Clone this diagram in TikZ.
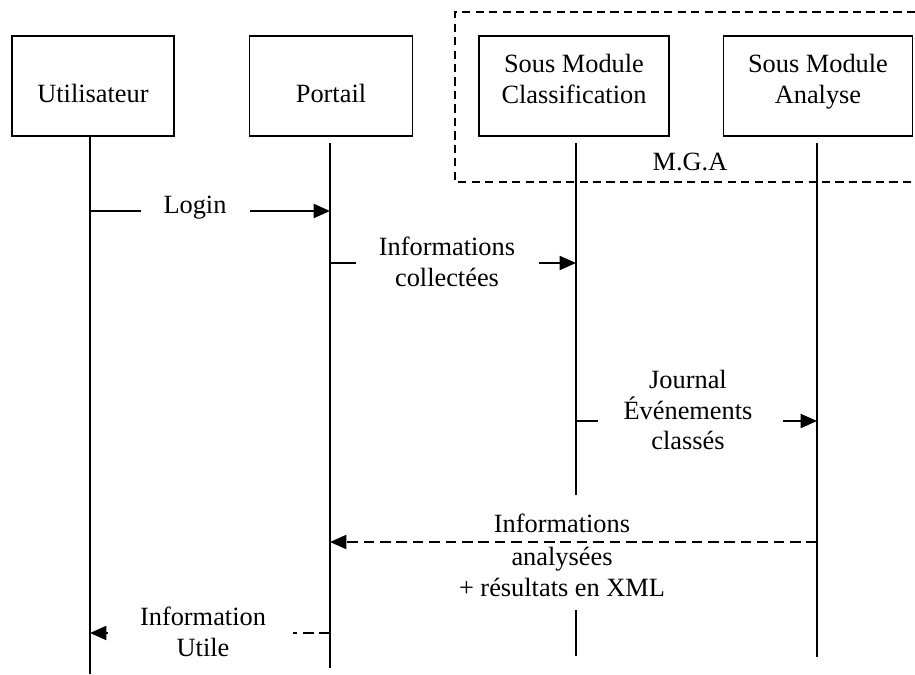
\documentclass[tikz,border=0pt]{standalone}
\usepackage{fontspec}
\setmainfont{Liberation Serif}
\usetikzlibrary{arrows.meta}

\begin{document}
\begin{tikzpicture}[x=0.03cm,y=-0.03cm,
  box/.style={draw,line width=1.6pt,minimum height=3cm,inner sep=0pt},
  lbl/.style={font=\fontsize{22.5}{26.4}\selectfont,align=center,inner sep=0pt},
  lifeline/.style={line width=1.6pt},
  msg/.style={line width=1.6pt,-{Triangle[length=14pt,width=12pt]}},
  reply/.style={msg,dash pattern=on 9pt off 5pt},
  groupbox/.style={line width=1.2pt,dash pattern=on 7pt off 4.5pt}]
  \useasboundingbox (0,0) rectangle (915,675);
  % Actor boxes
  \node[box,minimum width=4.86cm] (user) at (93,86) {};
  \node[box,minimum width=4.89cm] (portal) at (331,86) {};
  \node[box,minimum width=5.7cm] (classif) at (574,86) {};
  \node[box,minimum width=5.67cm] (analyse) at (818,86) {};
  \node[lbl] (user-txt) at (93,93) {Utilisateur};
  \node[lbl] (portal-txt) at (331,93) {Portail};
  \node[lbl] (classif-txt) at (574,79) {Sous Module\\Classification};
  \node[lbl] (analyse-txt) at (818,81.5) {Sous Module\\Analyse};
  % M.G.A group (open on the right)
  \draw[groupbox] (915,12) -- (455,12) -- (455,182) -- (915,182);
  \node[lbl] (mga) at (690,162) {M.G.A};
  % Lifelines
  \foreach \n/\x/\ya/\yb in {user/90/136/674, portal/330/143/668,
      classif/576/143/495, analyse/817/143/657} {
    \coordinate (\n-top) at (\x,\ya);
    \coordinate (\n-bot) at (\x,\yb);
    \draw[lifeline] (\n-top) -- (\n-bot);
  }
  \coordinate (classif-top2) at (576,610);
  \coordinate (classif-bot2) at (576,656);
  \draw[lifeline] (classif-top2) -- (classif-bot2);
  % Login
  \coordinate (login-s) at (90,211);
  \coordinate (login-l) at (141,211);
  \coordinate (login-r) at (250,211);
  \coordinate (login-e) at (330,211);
  \node[lbl] (login) at (195,208) {Login};
  \draw[lifeline] (login-s) -- (login-l);
  \draw[msg] (login-r) -- (login-e);
  % Informations collectees
  \coordinate (collect-s) at (330,263);
  \coordinate (collect-l) at (356,263);
  \coordinate (collect-r) at (539,263);
  \coordinate (collect-e) at (576,263);
  \node[lbl] (collect) at (447,262) {Informations\\collectées};
  \draw[lifeline] (collect-s) -- (collect-l);
  \draw[msg] (collect-r) -- (collect-e);
  % Journal
  \coordinate (journal-s) at (576,421);
  \coordinate (journal-l) at (598,421);
  \coordinate (journal-r) at (783,421);
  \coordinate (journal-e) at (817,421);
  \node[lbl] (journal) at (688,410) {Journal\\Événements\\classés};
  \draw[lifeline] (journal-s) -- (journal-l);
  \draw[msg] (journal-r) -- (journal-e);
  % Informations analysees
  \coordinate (result-s) at (817,542);
  \coordinate (result-e) at (330,542);
  \draw[reply] (result-s) -- (result-e);
  \node[lbl] (result-a) at (562,523) {Informations};
  \node[lbl] (result-b) at (562,572) {analysées\\+ résultats en XML};
  % Information utile
  \coordinate (useful-s) at (330,633);
  \coordinate (useful-r) at (293,633);
  \coordinate (useful-l) at (108,633);
  \coordinate (useful-e) at (90,633);
  \node[lbl] (useful) at (203,632) {Information\\Utile};
  \draw[reply,-] (useful-s) -- (useful-r);
  \draw[msg] (useful-l) -- (useful-e);
\end{tikzpicture}
\end{document}
